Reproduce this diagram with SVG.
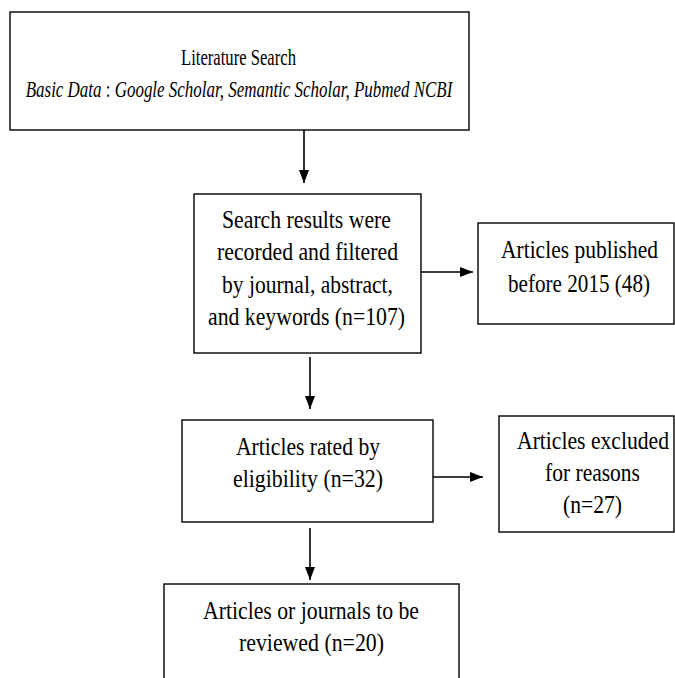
<svg xmlns="http://www.w3.org/2000/svg" width="675" height="678" viewBox="0 0 675 678">
<style>
rect{fill:#fff;stroke:#000;stroke-width:1.4}
text{font-family:'Liberation Serif',serif;font-size:25px;fill:#000;text-anchor:middle}
.t{font-size:24px}
.c line{stroke:#000;stroke-width:1.6;marker-end:url(#ah)}
.i{font-style:italic}
</style>
<defs>
<marker id="ah" markerUnits="userSpaceOnUse" markerWidth="13" markerHeight="10" refX="13" refY="5" orient="auto">
<path d="M0,0 L13,5 L0,10 z" fill="#000"/>
</marker>
</defs>
<rect x="0" y="0" width="675" height="678" style="stroke:none"/>
<g id="n1">
<rect x="10" y="12" width="459" height="118"/>
<text class="t" x="238.5" y="65" textLength="115" lengthAdjust="spacingAndGlyphs">Literature Search</text>
<text class="t" x="0" y="0" transform="translate(239,97) scale(0.707,1)"><tspan class="i">Basic Data</tspan> : <tspan class="i">Google Scholar, Semantic Scholar, Pubmed NCBI</tspan></text>
</g>
<g id="n2">
<rect x="194" y="194" width="227" height="159"/>
<text x="306.5" y="228" textLength="169" lengthAdjust="spacingAndGlyphs">Search results were</text>
<text x="307.5" y="260" textLength="181" lengthAdjust="spacingAndGlyphs">recorded and filtered</text>
<text x="307.5" y="293" textLength="171" lengthAdjust="spacingAndGlyphs">by journal, abstract,</text>
<text x="306.5" y="325" textLength="197" lengthAdjust="spacingAndGlyphs">and keywords (n=107)</text>
</g>
<g id="n3">
<rect x="478" y="223" width="196" height="101"/>
<text x="579.5" y="258" textLength="157" lengthAdjust="spacingAndGlyphs">Articles published</text>
<text x="579" y="292" textLength="142" lengthAdjust="spacingAndGlyphs">before 2015 (48)</text>
</g>
<g id="n4">
<rect x="182" y="420" width="251" height="102"/>
<text x="308" y="455" textLength="144" lengthAdjust="spacingAndGlyphs">Articles rated by</text>
<text x="308" y="487" textLength="150" lengthAdjust="spacingAndGlyphs">eligibility (n=32)</text>
</g>
<g id="n5">
<rect x="499" y="416" width="175" height="116"/>
<text x="593" y="449" textLength="152" lengthAdjust="spacingAndGlyphs">Articles excluded</text>
<text x="592.5" y="481" textLength="95" lengthAdjust="spacingAndGlyphs">for reasons</text>
<text x="592.5" y="513" textLength="59" lengthAdjust="spacingAndGlyphs">(n=27)</text>
</g>
<g id="n6">
<rect x="164" y="584" width="295" height="110"/>
<text x="311" y="619" textLength="216" lengthAdjust="spacingAndGlyphs">Articles or journals to be</text>
<text x="311.5" y="651" textLength="145" lengthAdjust="spacingAndGlyphs">reviewed (n=20)</text>
</g>
<g id="connectors" class="c">
<line x1="304" y1="130" x2="304" y2="183"/>
<line x1="421" y1="272" x2="473" y2="272"/>
<line x1="310" y1="357" x2="310" y2="409"/>
<line x1="433" y1="477" x2="483" y2="477"/>
<line x1="310" y1="528" x2="310" y2="580"/>
</g>
</svg>
